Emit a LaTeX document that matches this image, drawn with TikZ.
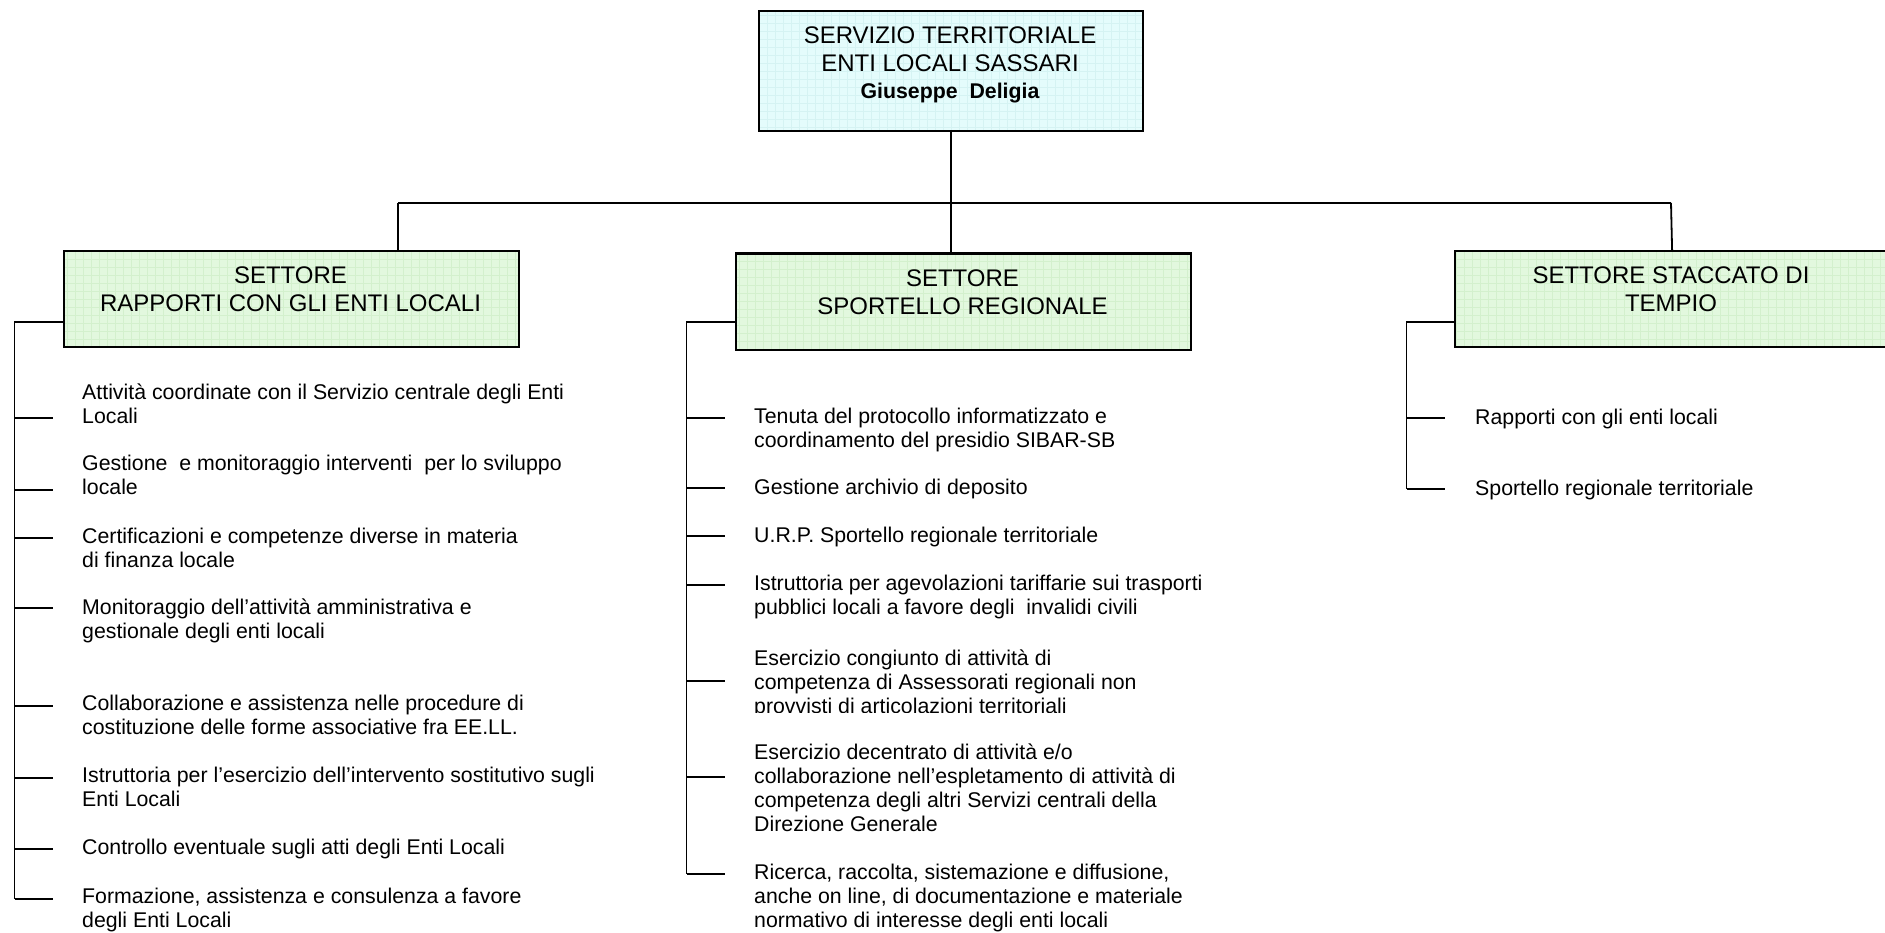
\documentclass[tikz,border=0pt]{standalone}
\usepackage{fontspec}
\setmainfont{Liberation Sans}
\definecolor{topfill}{RGB}{228,252,252}
\definecolor{topgrid}{RGB}{213,243,243}
\definecolor{secfill}{RGB}{226,248,222}
\definecolor{secgrid}{RGB}{211,240,205}
\begin{document}
\begin{tikzpicture}[x=1pt,y=-1pt,
  conn/.style={draw=black,line width=1.8pt},
  gbox/.style={draw=black,line width=2.2pt,inner sep=0pt,anchor=north west,
    path picture={\draw[#1,line width=0.5pt,step=8pt]
      (path picture bounding box.south west) grid (path picture bounding box.north east);}},
  boxtext/.style={anchor=base,align=center,inner sep=0pt,font=\fontsize{24}{28.4}\selectfont},
  item/.style={anchor=base west,align=left,inner sep=0pt,font=\fontsize{21.3}{24}\selectfont}]
\useasboundingbox (0,0) rectangle (1885,933);
\clip (0,0) rectangle (1885,933);

% boxes
\node[gbox=topgrid,fill=topfill,minimum width=384pt,minimum height=120pt] (top) at (758,10) {};
\node[gbox=secgrid,fill=secfill,minimum width=455.5pt,minimum height=96pt] (left) at (62.5,250) {};
\node[gbox=secgrid,fill=secfill,minimum width=455.5pt,minimum height=96pt] (mid) at (734.5,252.5) {};
\node[gbox=secgrid,fill=secfill,minimum width=434pt,minimum height=96pt] (right) at (1454,250) {};

% box texts (anchor = baseline of the last line)
\node[boxtext] (toptxt) at (950,98.3) {SERVIZIO TERRITORIALE\\ENTI LOCALI SASSARI\\[-1.8pt]{\fontsize{21.3}{24}\selectfont\bfseries Giuseppe\ \ Deligia}};
\node[boxtext] (lefttxt) at (290.5,311.8) {SETTORE\\RAPPORTI CON GLI ENTI LOCALI};
\node[boxtext] (midtxt) at (962.5,314.8) {SETTORE\\SPORTELLO REGIONALE};
\node[boxtext] (righttxt) at (1671,311.8) {SETTORE STACCATO DI\\TEMPIO};

% top connectors
\coordinate (hl) at (398,203);
\coordinate (hr) at (1671,203);
\draw[conn] (top.south) -- (top.south |- mid.north);
\draw[conn] (hl) -- (hr);
\draw[conn] (hl) -- (hl |- left.north);
\draw[conn] (hr) -- (right.north);

% left subtree
\coordinate (LV) at (14.5,322);
\draw[conn] (left.north west |- LV) -- (LV) -- (14.5,899);
\foreach \y in {418,490,538,608,706,778,849,899}{
  \draw[conn] (LV |- 0,\y) -- ++(38,0);
}
\node[item] (l1) at (82,423) {Attività coordinate con il Servizio centrale degli Enti\\Locali};
\node[item] (l2) at (82,494) {Gestione\ \ e monitoraggio interventi\ \ per lo sviluppo\\locale};
\node[item] (l3) at (82,567) {Certificazioni e competenze diverse in materia\\di finanza locale};
\node[item] (l4) at (82,638) {Monitoraggio dell’attività amministrativa e\\gestionale degli enti locali};
\node[item] (l5) at (82,734) {Collaborazione e assistenza nelle procedure di\\costituzione delle forme associative fra EE.LL.};
\node[item] (l6) at (82,806) {Istruttoria per l’esercizio dell’intervento sostitutivo sugli\\Enti Locali};
\node[item] (l7) at (82,854) {Controllo eventuale sugli atti degli Enti Locali};
\node[item] (l8) at (82,927) {Formazione, assistenza e consulenza a favore\\degli Enti Locali};

% middle subtree
\coordinate (MV) at (686.5,322);
\draw[conn] (mid.north west |- MV) -- (MV) -- (686.5,874);
\foreach \y in {418,488,536,585,681,777,874}{
  \draw[conn] (MV |- 0,\y) -- ++(38.5,0);
}
\node[item] (m1) at (754,447) {Tenuta del protocollo informatizzato e\\coordinamento del presidio SIBAR-SB};
\node[item] (m2) at (754,494) {Gestione archivio di deposito};
\node[item] (m3) at (754,542) {U.R.P. Sportello regionale territoriale};
\node[item] (m4) at (754,614) {Istruttoria per agevolazioni tariffarie sui trasporti\\pubblici locali a favore degli\ \ invalidi civili};
\begin{scope}
\clip (740,630) rectangle (1300,712.5);
\node[item] (m5) at (754,713.5) {Esercizio congiunto di attività di\\competenza di Assessorati regionali non\\provvisti di articolazioni territoriali};
\end{scope}
\node[item] (m6) at (754,831) {Esercizio decentrato di attività e/o\\collaborazione nell’espletamento di attività di\\competenza degli altri Servizi centrali della\\Direzione Generale};
\node[item] (m7) at (754,927) {Ricerca, raccolta, sistemazione e diffusione,\\anche on line, di documentazione e materiale\\normativo di interesse degli enti locali};

% right subtree
\coordinate (RV) at (1406.5,322);
\draw[conn] (right.north west |- RV) -- (RV) -- (1406.5,489);
\foreach \y in {418,489}{
  \draw[conn] (RV |- 0,\y) -- ++(38.5,0);
}
\node[item] (r1) at (1475,424) {Rapporti con gli enti locali};
\node[item] (r2) at (1475,495) {Sportello regionale territoriale};
\end{tikzpicture}
\end{document}
